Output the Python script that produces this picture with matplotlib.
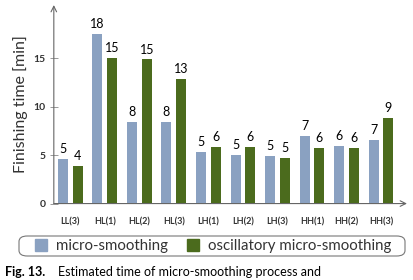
import numpy as np
import matplotlib.pyplot as plt
from matplotlib.patches import FancyBboxPatch, Patch

plt.rcParams['font.family'] = ['Lato', 'DejaVu Sans']

# data
cases = ['LL(3)', 'HL(1)', 'HL(2)', 'HL(3)', 'LH(1)', 'LH(2)', 'LH(3)', 'HH(1)', 'HH(2)', 'HH(3)']
micro = [4.6, 17.5, 8.4, 8.45, 5.3, 5.0, 4.95, 7.0, 5.95, 6.6]
oscill = [3.85, 15.0, 14.85, 12.85, 5.8, 5.8, 4.7, 5.7, 5.75, 8.8]
micro_lbl = ['5', '18', '8', '8', '5', '5', '5', '7', '6', '7']
oscill_lbl = ['4', '15', '15', '13', '6', '6', '5', '6', '6', '9']

blue = '#8aa1c1'
green = '#4b6b1d'

fig = plt.figure(figsize=(4.14, 2.8), dpi=100)
ax = fig.add_axes([0.130, 0.273, 0.853, 0.709])

x = np.arange(len(cases))
w = 0.29
off = 0.215
ax.bar(x - off, micro, w, color=blue)
ax.bar(x + off, oscill, w, color=green)

for i in range(len(cases)):
    ax.text(x[i] - off, micro[i] + 0.4, micro_lbl[i], ha='center', va='bottom', fontsize=9)
    ax.text(x[i] + off, oscill[i] + 0.4, oscill_lbl[i], ha='center', va='bottom', fontsize=9)

ax.set_xlim(-0.478, 9.75)
ax.set_ylim(0, 20.46)
ax.set_yticks([0, 5, 10, 15])
ax.set_yticklabels(['0', '5', '10', '15'], fontsize=7.5, fontweight='bold', color='#333333')
ax.set_xticks(x)
ax.set_xticklabels(cases, fontsize=6.5, fontweight='bold', color='#333333')
ax.tick_params(axis='y', direction='inout', length=6, width=0.6, color='#888888', pad=3)
ax.tick_params(axis='x', length=0, pad=10)
ax.set_ylabel('Finishing time [min]', fontsize=11.5, color='#333333', labelpad=4)

for s in ['top', 'right', 'left', 'bottom']:
    ax.spines[s].set_visible(False)
# axis arrows
ax.annotate('', xy=(0, 1.0), xytext=(0, 0), xycoords='axes fraction',
            arrowprops=dict(arrowstyle='->', color='#666666', lw=0.8, shrinkA=0, shrinkB=0))
ax.annotate('', xy=(1.0, 0), xytext=(0, 0), xycoords='axes fraction',
            arrowprops=dict(arrowstyle='->', color='#666666', lw=0.8, shrinkA=0, shrinkB=0))

# legend box
box = FancyBboxPatch((19 / 414, 1 - 256 / 280), 386 / 414, 20 / 280,
                     boxstyle='round,pad=0,rounding_size=0.02', transform=fig.transFigure,
                     facecolor='white', edgecolor='#777777', lw=0.8)
fig.patches.append(box)
handles = [Patch(color=blue, label='micro-smoothing'),
           Patch(color=green, label='oscillatory micro-smoothing')]
fig.legend(handles=handles, loc='center', bbox_to_anchor=(213 / 414, 1 - 246 / 280),
           ncol=2, frameon=False, fontsize=10.8, handlelength=0.8, handleheight=0.8,
           handletextpad=0.6, columnspacing=1.3, labelcolor='#333333')

# caption under the legend
fig.text(5 / 414, 2 / 280, 'Fig. 13.', fontsize=9, fontweight='bold', va='bottom')
fig.text(58 / 414, 2 / 280, 'Estimated time of micro-smoothing process and',
         fontsize=9, va='bottom')

fig.savefig('out.png', dpi=100)
